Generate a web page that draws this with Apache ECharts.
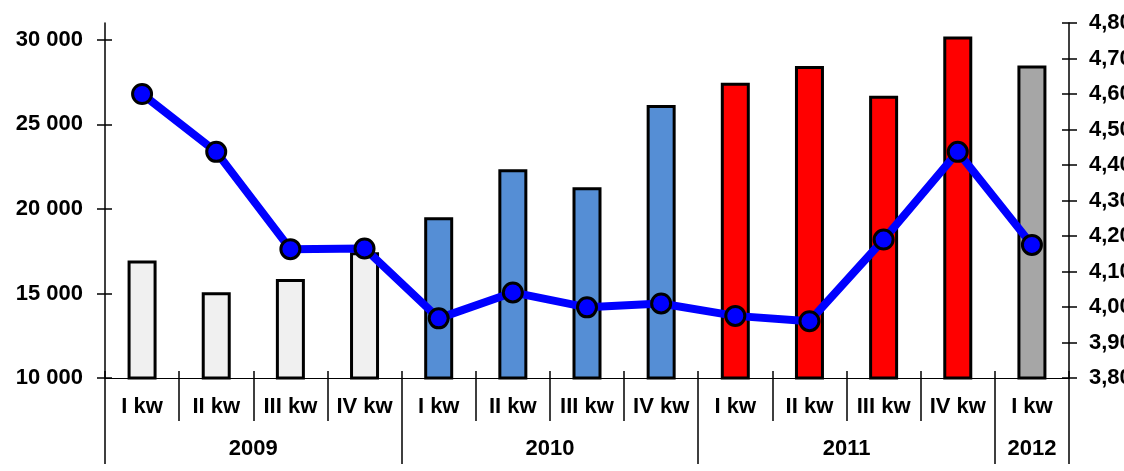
<!DOCTYPE html>
<html>
<head>
<meta charset="utf-8">
<script src="https://cdn.jsdelivr.net/npm/echarts@6/dist/echarts.min.js"></script>
<style>
html,body{margin:0;padding:0;background:#fff;}
#chart{width:1124px;height:471px;}
</style>
</head>
<body>
<div id="chart"></div>
<script>
// ---- data ----
const quarters = ['I kw','II kw','III kw','IV kw','I kw','II kw','III kw','IV kw','I kw','II kw','III kw','IV kw','I kw'];
const quarterYear = ['2009','2009','2009','2009','2010','2010','2010','2010','2011','2011','2011','2011','2012'];
const years = ['2009','2010','2011','2012'];
const yearCenters = [2, 6, 10, 12.5];
const yearBounds = [0, 4, 8, 12, 13];
const barValues = [16950, 15070, 15860, 17440, 19510, 22350, 21280, 26150, 27470, 28460, 26690, 30200, 28480];
const lineValues = [4.60, 4.437, 4.163, 4.165, 3.968, 4.041, 3.999, 4.01, 3.975, 3.96, 4.19, 4.437, 4.175];
const leftTicks = [10000, 15000, 20000, 25000, 30000];

// ---- styles ----
const yearColors = {'2009':'#f0f0f0','2010':'#558ed5','2011':'#ff0000','2012':'#a6a6a6'};
const FONT = 'Liberation Sans, Arial, sans-serif';
const lbl = {color:'#000', fontFamily:FONT, fontWeight:'bold', fontSize:22};

const chart = echarts.init(document.getElementById('chart'), null, {renderer:'canvas'});
const fmtThousands = v => String(Math.round(v)).replace(/\B(?=(\d{3})+(?!\d))/g, ' ');

chart.setOption({
  animation:false,
  backgroundColor:'#fff',
  grid:{left:105, right:55, top:23, bottom:93, containLabel:false, outerBoundsMode:'none'},
  xAxis:[
    {type:'category', data:quarters, position:'bottom',
     axisLine:{show:true, lineStyle:{color:'#000', width:1}},
     axisTick:{show:true, alignWithLabel:false, interval:0, length:43, lineStyle:{color:'#000', width:1.5}},
     axisLabel:Object.assign({interval:0, margin:18}, lbl),
     splitLine:{show:false}},
    {type:'value', min:0, max:13, position:'bottom',
     axisLine:{show:false},
     axisTick:{show:true, customValues:yearBounds, length:86, lineStyle:{color:'#000', width:1.5}},
     axisLabel:Object.assign({customValues:yearCenters, margin:60,
       formatter:v => years[yearCenters.indexOf(v)] || ''}, lbl),
     splitLine:{show:false}},
    {type:'category', data:quarters, position:'bottom',
     axisLine:{show:false},
     axisTick:{show:true, inside:true, alignWithLabel:false, interval:0, length:7, lineStyle:{color:'#000', width:1.5}},
     axisLabel:{show:false}, splitLine:{show:false}}
  ],
  yAxis:[
    {type:'value', min:10000, max:31000, interval:5000, position:'left',
     axisLine:{show:true, lineStyle:{color:'#000', width:1.5}},
     axisTick:{show:true, customValues:leftTicks, length:8, lineStyle:{color:'#000', width:1.5}},
     axisLabel:Object.assign({customValues:leftTicks, margin:22, formatter:fmtThousands}, lbl),
     splitLine:{show:false}},
    {type:'value', min:3.8, max:4.8, interval:0.1, position:'right',
     axisLine:{show:true, lineStyle:{color:'#000', width:1.5}},
     axisTick:{show:true, length:8, lineStyle:{color:'#000', width:1.5}},
     axisLabel:Object.assign({margin:20, formatter:v => v.toFixed(2).replace('.', ',')}, lbl),
     splitLine:{show:false}},
    {type:'value', min:10000, max:31000, position:'left',
     axisLine:{show:false},
     axisTick:{show:true, inside:true, customValues:leftTicks, length:7, lineStyle:{color:'#000', width:1.5}},
     axisLabel:{show:false}, splitLine:{show:false}},
    {type:'value', min:3.8, max:4.8, interval:0.1, position:'right',
     axisLine:{show:false},
     axisTick:{show:true, inside:true, length:7, lineStyle:{color:'#000', width:1.5}},
     axisLabel:{show:false}, splitLine:{show:false}}
  ],
  series:[
    {type:'bar', xAxisIndex:0, yAxisIndex:0, barWidth:29,
     data:barValues.map((v,i) => ({value:v, itemStyle:{color:yearColors[quarterYear[i]]}})),
     itemStyle:{borderColor:'#000', borderWidth:3}, z:2},
    {type:'line', xAxisIndex:0, yAxisIndex:1, data:lineValues,
     lineStyle:{color:'#0000ff', width:8},
     symbol:'circle', symbolSize:19,
     itemStyle:{color:'#0000ff', borderColor:'#000', borderWidth:3},
     z:5}
  ]
});
</script>
</body>
</html>
